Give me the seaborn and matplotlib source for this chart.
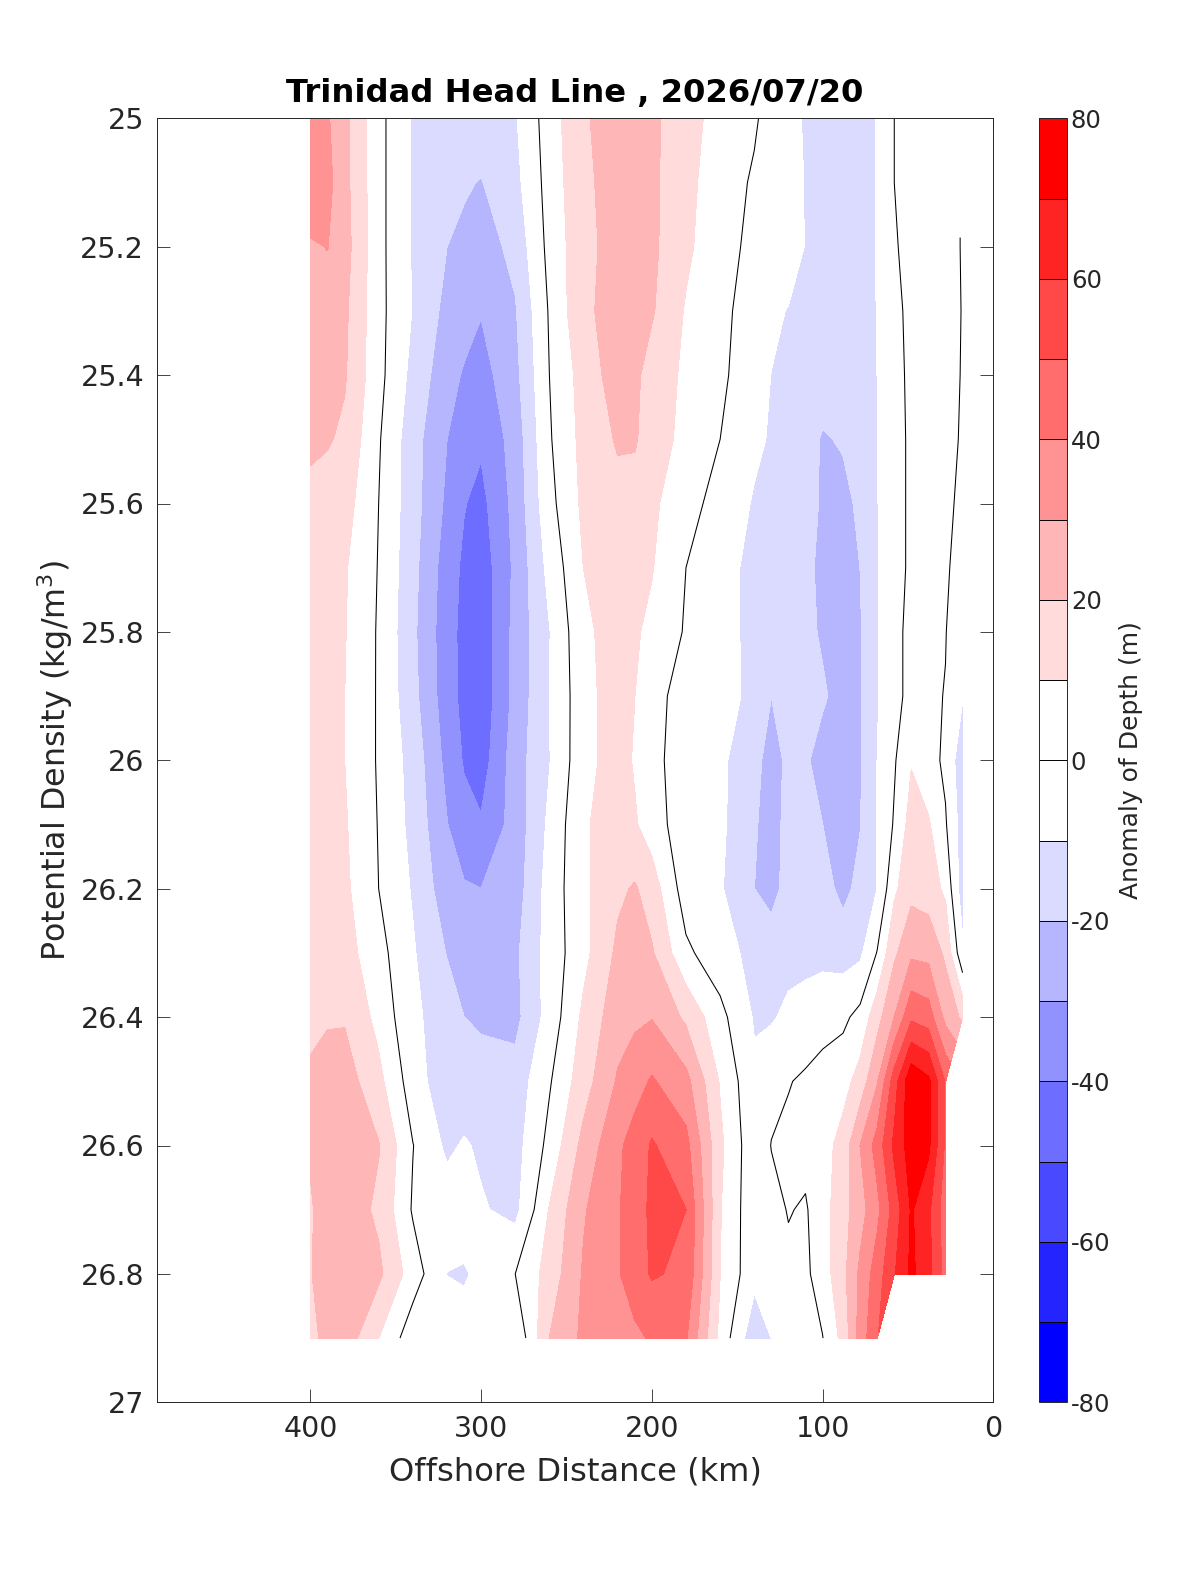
import numpy as np
import matplotlib
matplotlib.use("Agg")
import matplotlib.pyplot as plt
import seaborn as sns

nan = np.nan
distance_km = [400,390,380,360,340,320,310,300,280,260,240,220,210,200,180,160,140,130,120,110,100,88,78,68,58,48,38,28,18]
density = [25.0,25.1,25.2,25.3,25.4,25.5,25.6,25.7,25.8,25.9,26.0,26.1,26.2,26.3,26.4,26.5,26.6,26.7,26.8,26.9]

r2500 = [35,31,23,3,-11,-14,-15,-15,-11,5,19,24,23,22,14,6,1,-3,-7,-11,-14,-15,-14,-9.5,0,1,2,2,nan]
r2510 = [36,33,23,3,-11,-16,-19,-20.5,-13,4,18,24,23,22,13,4,-1,-3,-6,-10.5,-14,-15,-14,-9.5,0,1,2,3,nan]
r2520 = [29,30.2,24,3,-11,-20,-22,-25,-17,3,17,24,23,22,12,3,-2,-3,-5,-10.5,-14,-15,-14,-9.5,-0.3,1,2,3,-0.5]
r2530 = [28,27,22,3,-10.5,-23,-26,-29.5,-21,1,18,24,22.5,21,9,2,-3.5,-8,-10.5,-13,-15,-16,-14,-9.8,-1,1,2,3,-0.3]
r2540 = [27,26,21,3,-13,-26.5,-31,-34,-23,0,14,25,22,16,8,2,-6,-10.2,-12,-14,-15,-16,-14.5,-10,-1.5,1,2,3,-0.5]
r2550 = [23.5,21,18,1,-16,-30,-35,-38.5,-26,-1,13,21,21,15,7,0,-8,-11,-13,-16,-21,-19,-16,-10.5,-2,1,2,3,-1]
r2560 = [15,15,14,0,-16,-32,-39.5,-43,-27,-3,12,17,16,12,3,-3,-11,-13,-15,-17,-21,-23,-18,-10.5,-2,1,2,2,-2]
r2570 = [13,12,11,-0.5,-17,-35,-42,-46,-28,-7,10,14,12,10.5,0,-6,-13,-14,-16,-18,-22,-24,-20,-11,-2,1,2,1,-3]
r2580 = [13,12,10.5,-1,-18,-36,-43,-47,-27,-10.5,8,14,11,8,-1,-6,-13,-15,-16,-18,-21,-24,-21,-11,-1,1,1,0.2,-4]
r2590 = [13,11.5,10,-1,-17,-35.5,-43,-47,-27,-10,6.5,15,10,5,-6,-7,-12,-20,-13,-16,-19,-23,-21,-11,-1,1,1,-0.2,-9.5]
r2600 = [13,11.5,10,-1,-14,-33,-41,-45,-25,-10.5,7,14,9,4,-7,-8,-17,-24,-18,-19,-23,-23,-21,-10,-1,9.3,4,-2,-17]
r2610 = [13,12,11,-0.5,-13,-29.7,-36.5,-39,-26,-8,9,14,11,5,-6,-8,-19,-24,-17,-17,-20,-24,-20.5,-9.5,1,14,11,1,-15]
r2620 = [13,12.5,12,0,-11,-26,-29,-30,-25,-6,8,18,21,15,-5,-9,-20,-24,-16,-15,-16,-23,-17,-10,8,17,15,8,-16]
r2630 = [13,13.5,14,3.5,-9,-20.5,-25,-26,-22,-6,7,22,23,21,2,-6,-13,-14,-13,-13,-13,-14,-12,0.5,18,28,27,18,-8]
r2640 = [17,19,19,7,-8,-15,-20,-21.5,-23,-6,12,26,28,29.5,18,3,-11,-11,-8,-6,-3,-2,3,16,30,48,45,27,18]
r2650 = [22,24,25,12.6,-5,-17,-16,-16,-16,-1,15.5,31,36,41,33,9,-8,-3,-0.5,1.5,3,6,14,29,55,78,72,49,nan]
r2660 = [21,25,27,20.5,0.3,-12,-9,-11.5,-14,3,23,38,44,51,43,12,-7,0.3,2,3,5.5,14,30,44,62,75,72,48,nan]
r2670 = [19,24,26,18,-1,-5,-5,-9,-13,10.5,29,39,45,52,50,10.5,-7,-3,0.5,-1,6,16,26,37,54,71,62,44,nan]
r2680 = [19.5,24,27,22,5,-10.2,-11,-8,0,14,31,39,45,51,48,10,-7,-5,-2,-2,5,17,32,45,59,72,63,46,nan]
r2690 = [17,23,26,10,-6,-4,-6,-3,-9,20,32,36,38,41,41,7,-17,-10,-3,-1,-0.3,13,34,49,nan,nan,nan,nan,nan]

anomaly_rows = [r2500,r2510,r2520,r2530,r2540,r2550,r2560,r2570,r2580,r2590,
                r2600,r2610,r2620,r2630,r2640,r2650,r2660,r2670,r2680,r2690]

levels = list(range(-80, 81, 10))
x_ticks = [400, 300, 200, 100, 0]
y_ticks = [25, 25.2, 25.4, 25.6, 25.8, 26, 26.2, 26.4, 26.6, 26.8, 27]
y_tick_labels = ["25", "25.2", "25.4", "25.6", "25.8", "26", "26.2", "26.4", "26.6", "26.8", "27"]
cbar_ticks = list(range(-80, 81, 20))

sns.set_theme(style="white", rc={
    "axes.edgecolor": "0.15", "axes.linewidth": 0.7,
    "xtick.color": "0.15", "ytick.color": "0.15",
    "text.color": "0.15", "axes.labelcolor": "0.15",
    "axes.unicode_minus": False,
})
plt.rcParams["font.family"] = ["DejaVu Sans"]

blues = sns.blend_palette(["#0000ff", "#ffffff"], 8)
reds = sns.blend_palette(["#ffffff", "#ff0000"], 8)
band_colors = list(blues) + list(reds)

W, H = 1200, 1575
L, R, T, B = 156.7, 993.3, 118.3, 1402.3
fig = plt.figure(figsize=(W / 100, H / 100), dpi=100, facecolor="white")
ax = fig.add_axes([L / W, 1 - B / H, (R - L) / W, (B - T) / H])
cax = fig.add_axes([1039.3 / W, 1 - B / H, (1066.7 - 1039.3) / W, (B - T) / H])

Z = np.ma.masked_invalid(np.array(anomaly_rows, dtype=float))
cs = ax.contourf(distance_km, density, Z, levels=levels, colors=band_colors)
cs.set_edgecolor("face")
cs.set_linewidth(0.3)
ax.contour(distance_km, density, Z, levels=[0], colors="black", linewidths=0.75)

ax.set_xlim(490, 0)
ax.set_ylim(27, 25)
ax.set_xticks(x_ticks)
ax.set_yticks(y_ticks)
ax.set_yticklabels(y_tick_labels)
ax.tick_params(axis="both", which="major", direction="in", length=9.6, width=0.6,
               top=True, right=True, bottom=True, left=True, pad=9)
ax.tick_params(axis="both", labelsize=20.5)
ax.set_xlabel("Offshore Distance (km)", fontsize=23.1, labelpad=10)
ax.set_ylabel("Potential Density (kg/m$^3$)", fontsize=22.9, labelpad=4)
ax.set_title("Trinidad Head Line , 2026/07/20", fontsize=23.2, fontweight="bold",
             color="black", pad=11.5)

cb = fig.colorbar(cs, cax=cax, ticks=cbar_ticks, drawedges=True)
cb.dividers.set_color("black")
cb.dividers.set_linewidth(0.7)
cb.outline.set_edgecolor("0.15")
cb.outline.set_linewidth(0.7)
cb.ax.tick_params(length=0, labelsize=17.5, pad=3)
cb.set_label("Anomaly of Depth (m)", fontsize=18, labelpad=6)

fig.savefig("out.png", dpi=100, facecolor="white")
